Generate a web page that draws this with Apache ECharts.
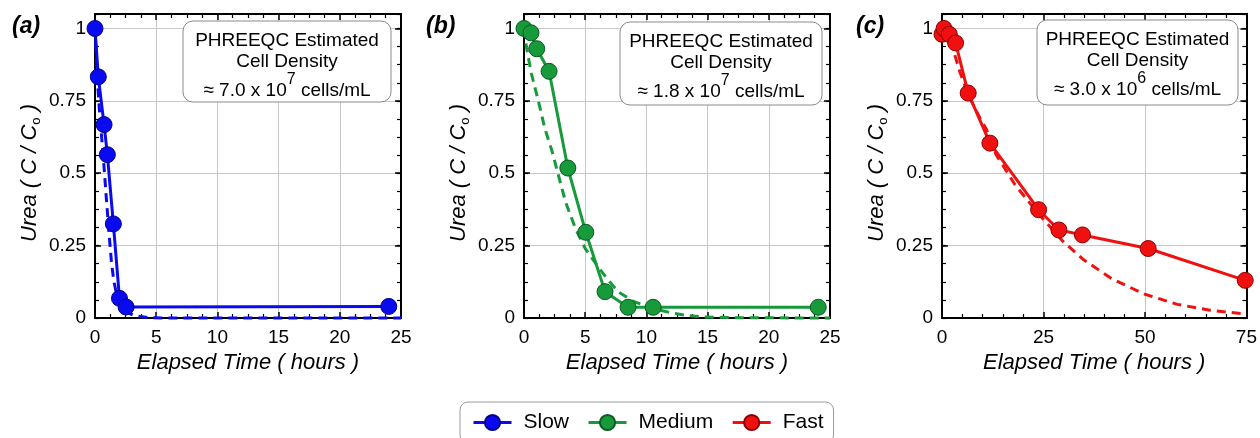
<!DOCTYPE html>
<html>
<head>
<meta charset="utf-8">
<script src="https://cdn.jsdelivr.net/npm/echarts@6/dist/echarts.min.js"></script>
<style>
  html, body { margin: 0; padding: 0; background: #ffffff; }
  #chart { width: 1260px; height: 438px; }
</style>
</head>
<body>
<div id="chart"></div>
<script>
// Measured urea concentration (C / Co) over time for the three columns
const slowTime   = [0, 0.27, 0.74, 1.01, 1.5, 2.0, 2.54, 24];
const slowUrea   = [1.0, 0.833, 0.668, 0.564, 0.325, 0.068, 0.038, 0.04];
const mediumTime = [0, 0.57, 1.04, 2.05, 3.58, 5.05, 6.62, 8.5, 10.55, 24.04];
const mediumUrea = [1.0, 0.985, 0.93, 0.852, 0.518, 0.296, 0.091, 0.037, 0.037, 0.037];
const fastTime   = [0, 0.5, 1.8, 3.35, 6.45, 11.8, 23.8, 28.8, 34.6, 50.8, 74.7];
const fastUrea   = [0.98, 1.0, 0.98, 0.95, 0.777, 0.604, 0.374, 0.304, 0.287, 0.24, 0.13];

// PHREEQC model curves (dashed)
const slowModelTime   = [0, 0.2, 0.35, 0.55, 0.75, 0.95, 1.15, 1.35, 1.55, 1.75, 2.0, 2.3, 2.7, 3.2, 3.7, 4.5, 6, 25];
const slowModelUrea   = [1, 0.82, 0.725, 0.62, 0.515, 0.40, 0.29, 0.19, 0.125, 0.085, 0.055, 0.034, 0.018, 0.009, 0.005, 0.001, 0, 0];
const mediumModelTime = [0, 0.2, 0.6, 1.2, 1.7, 2.3, 2.8, 3.4, 4.2, 5, 6, 6.8, 7.7, 9, 10, 11, 12, 13.3, 14.6, 17, 25];
const mediumModelUrea = [1, 0.935, 0.845, 0.745, 0.655, 0.575, 0.495, 0.40, 0.31, 0.24, 0.18, 0.135, 0.09, 0.056, 0.042, 0.028, 0.018, 0.009, 0.004, 0.001, 0];
const fastModelTime   = [0, 1.5, 2.7, 4.4, 6.5, 9, 11, 13.3, 18, 24, 30, 35, 42, 50, 58, 66, 75];
const fastModelUrea   = [1, 0.975, 0.93, 0.85, 0.77, 0.70, 0.65, 0.565, 0.46, 0.356, 0.262, 0.2, 0.134, 0.082, 0.047, 0.027, 0.013];

// Axis ticks
const xMaxima     = [25, 25, 75];
const xIntervals  = [5, 5, 25];
const xMinorSplit = [4, 4, 5];
const yTicks      = [0, 0.25, 0.5, 0.75, 1];

// Text
const seriesNames = ['Slow', 'Medium', 'Fast'];
const panelTags   = ['(a)', '(b)', '(c)'];
const densityMant = ['7.0', '1.8', '3.0'];
const densityExp  = ['7', '7', '6'];

const FONT = '"Liberation Sans", Arial, Helvetica, sans-serif';

const zip = (xs, ys) => xs.map((x, i) => [x, ys[i]]);

const measured = [zip(slowTime, slowUrea), zip(mediumTime, mediumUrea), zip(fastTime, fastUrea)];
const modeled  = [zip(slowModelTime, slowModelUrea), zip(mediumModelTime, mediumModelUrea), zip(fastModelTime, fastModelUrea)];

const colors  = ['#0a0af0', '#169a3a', '#f01010'];
const borders = ['#00008a', '#0a5a20', '#8a0000'];

// Panel layout (pixels)
const gridLefts = [95, 524, 942];
const gridTop = 14, gridW = 306, gridH = 304;
const boxes = [
  { x: 183, y: 21, w: 208, h: 81, tagX: 12 },
  { x: 620, y: 22, w: 202, h: 83, tagX: 426 },
  { x: 1037, y: 20, w: 201, h: 85, tagX: 856 }
];

const Y_MAX = 1.05;
const axisLineStyle = { color: '#000', width: 2 };
const gridColor = '#c8c8c8';

const grids = [], xAxes = [], yAxes = [], series = [], graphics = [];

for (let i = 0; i < 3; i++) {
  grids.push({ left: gridLefts[i], top: gridTop, width: gridW, height: gridH });

  const xCommon = {
    gridIndex: i, type: 'value', min: 0, max: xMaxima[i], interval: xIntervals[i],
    axisLine: { show: true, onZero: false, lineStyle: axisLineStyle },
    axisTick: { show: true, inside: true, length: 6, lineStyle: { color: '#000', width: 1.5 } },
    minorTick: { show: true, splitNumber: xMinorSplit[i], length: 4, lineStyle: { color: '#000', width: 1.2 } }
  };
  xAxes.push(Object.assign({}, xCommon, {
    position: 'bottom',
    splitLine: { show: true, lineStyle: { color: gridColor, width: 1 } },
    axisLabel: { show: true, fontSize: 19, color: '#000', fontFamily: FONT, margin: 10 },
    name: 'Elapsed Time ( hours )', nameLocation: 'middle', nameGap: 31,
    nameTextStyle: { fontSize: 22, fontStyle: 'italic', color: '#000', fontFamily: FONT }
  }));
  xAxes.push(Object.assign({}, xCommon, {
    position: 'top', splitLine: { show: false }, axisLabel: { show: false }
  }));

  const yCommon = {
    gridIndex: i, type: 'value', min: 0, max: Y_MAX,
    axisLine: { show: true, onZero: false, lineStyle: axisLineStyle },
    splitLine: { show: false }, axisLabel: { show: false }
  };
  const majorTick = { show: true, inside: true, length: 6, lineStyle: { color: '#000', width: 1.5 } };
  const minorTick = { show: true, inside: true, length: 4, lineStyle: { color: '#000', width: 1.2 } };
  const step = yTicks[1] - yTicks[0];
  yAxes.push(Object.assign({}, yCommon, {
    position: 'left', interval: step, axisTick: majorTick,
    splitLine: { show: true, lineStyle: { color: gridColor, width: 1 } },
    axisLabel: {
      show: true, fontSize: 19, color: '#000', fontFamily: FONT, margin: 9,
      formatter: v => (yTicks.some(t => Math.abs(t - v) < 1e-6) ? String(v) : '')
    },
    name: '{t|Urea ( C / C}{s|o}{t| )}', nameLocation: 'middle', nameRotate: 90, nameGap: 52,
    nameTextStyle: {
      color: '#000', fontFamily: FONT, padding: [0, 14, 0, 0],
      rich: {
        t: { fontSize: 22, fontStyle: 'italic', fontFamily: FONT, color: '#000', lineHeight: 26, verticalAlign: 'middle' },
        s: { fontSize: 13, fontFamily: FONT, color: '#000', lineHeight: 26, verticalAlign: 'bottom' }
      }
    }
  }));
  yAxes.push(Object.assign({}, yCommon, { position: 'left', interval: step / 4, axisTick: minorTick }));
  yAxes.push(Object.assign({}, yCommon, { position: 'right', interval: step, axisTick: majorTick }));
  yAxes.push(Object.assign({}, yCommon, { position: 'right', interval: step / 4, axisTick: minorTick }));

  // model curve first so that markers sit on top
  series.push({
    name: seriesNames[i] + ' model', type: 'line', xAxisIndex: 2 * i, yAxisIndex: 4 * i,
    data: modeled[i], showSymbol: false, symbol: 'none', smooth: false, clip: false, z: 2,
    lineStyle: { color: colors[i], width: 3, type: [9, 6] }, silent: true
  });
  series.push({
    name: seriesNames[i], type: 'line', xAxisIndex: 2 * i, yAxisIndex: 4 * i,
    data: measured[i], symbol: 'circle', symbolSize: 16, clip: false, z: 3,
    lineStyle: { color: colors[i], width: 3 },
    itemStyle: { color: colors[i], borderColor: borders[i], borderWidth: 1 }
  });

  const b = boxes[i];
  graphics.push({
    type: 'text', left: b.tagX, top: 15, z: 10,
    style: { text: panelTags[i], font: 'italic bold 23px ' + FONT, fill: '#000' }
  });
  graphics.push({
    type: 'rect', shape: { x: b.x, y: b.y, width: b.w, height: b.h, r: 10 }, z: 10,
    style: { fill: '#fff', stroke: '#8a8a8a', lineWidth: 1 }
  });
  graphics.push({
    type: 'text', x: b.x + b.w / 2, y: b.y + 9, z: 11,
    style: {
      text: '{n|PHREEQC Estimated}\n{n|Cell Density}\n{m|≈ ' + densityMant[i] + ' x 10}{p|' + densityExp[i] + '}{m| cells/mL}',
      align: 'center', verticalAlign: 'top', fill: '#000',
      rich: {
        n: { fontSize: 19, fontFamily: FONT, fill: '#000', lineHeight: 21 },
        m: { fontSize: 19, fontFamily: FONT, fill: '#000', lineHeight: 28, verticalAlign: 'bottom' },
        p: { fontSize: 16, fontFamily: FONT, fill: '#000', lineHeight: 28, verticalAlign: 'top' }
      }
    }
  });
}

const chart = echarts.init(document.getElementById('chart'), null, { renderer: 'canvas' });
chart.setOption({
  animation: false,
  backgroundColor: '#fff',
  grid: grids,
  xAxis: xAxes,
  yAxis: yAxes,
  legend: {
    data: seriesNames, left: 460, top: 402, orient: 'horizontal',
    itemWidth: 38, itemHeight: 19, itemGap: 18,
    padding: [10, 10, 10, 12],
    borderColor: '#9a9a9a', borderWidth: 1, borderRadius: 8, backgroundColor: '#fff',
    lineStyle: { width: 3 },
    textStyle: { fontSize: 21, color: '#000', fontFamily: FONT, padding: [0, 0, 0, 7] }
  },
  series: series,
  graphic: graphics
});
</script>
</body>
</html>
